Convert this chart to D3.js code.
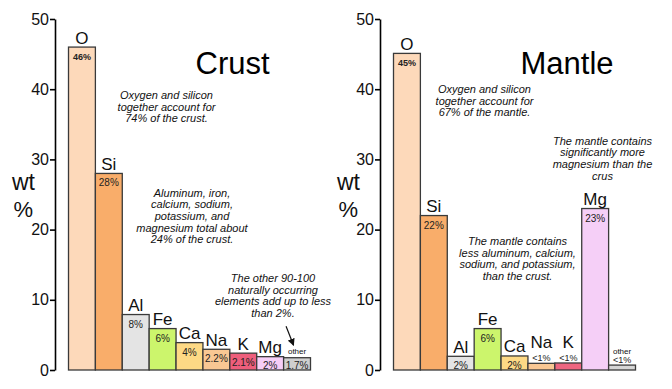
<!DOCTYPE html>
<html><head><meta charset="utf-8">
<script src="https://cdn.jsdelivr.net/npm/d3@7"></script>
<style>body{margin:0;background:#fff}svg{display:block}text{font-family:Arial,"Liberation Sans",sans-serif}</style>
</head><body>
<svg id="c" width="672" height="389"></svg>
<script>
const elements = ["O","Si","Al","Fe","Ca","Na","K","Mg","other"];
const crustValues = [46, 28, 7.9, 5.9, 3.9, 2.95, 2.4, 1.9, 1.75];
const crustLabels = ["46%","28%","8%","6%","4%","2.2%","2.1%","2%","1.7%"];
const mantleValues = [45.1, 22, 1.95, 5.9, 2, 0.95, 1, 23, 0.7];
const mantleLabels = ["45%","22%","2%","6%","2%","<1%","<1%","23%","<1%"];
const crustColors = ["#fdd9ba","#f9ad6a","#e4e4e4","#ccf56c","#fdd985","#f9c793","#ee5e7c","#f7cef7","#cfcfcf"];
const mantleColors = ["#fdd9ba","#f9ad6a","#e4e4e4","#ccf56c","#fdd985","#f9c793","#ee6680","#f5cff7","#d6d6d6"];
const yTicks = [0,10,20,30,40,50];

const svg = d3.select("#c");
const y = d3.scaleLinear().domain([0,50]).range([370,19]);

function panel(ox, title, values, labels, colors, notes) {
  const g = svg.append("g").attr("transform", `translate(${ox},0)`);
  const x = d3.scaleBand().domain(elements).range([13.5, 255.5]).padding(0);
  const bw = x.bandwidth();
  const data = elements.map((e,i)=>({e, v: values[i], l: labels[i], c: colors[i]}));

  g.selectAll("rect.bar").data(data).join("rect")
    .attr("x", d=>x(d.e)).attr("y", d=>y(d.v))
    .attr("width", bw).attr("height", d=>y(0)-y(d.v))
    .attr("fill", d=>d.c).attr("stroke", "#3a3a3a").attr("stroke-width", 1.3);

  data.forEach((d,i)=>{
    const top = y(d.v), h = y(0)-top, cx = x(d.e)+bw/2;
    const inside = h >= 12;
    let pctY, elY;
    if (inside) {
      pctY = Math.min(top + 13, 368.5);
      elY = top - 3.5;
    } else {
      pctY = top - 2;
      elY = d.e === "other" ? top - 11 : top - 15;
    }
    g.append("text").attr("x", cx).attr("y", pctY).attr("text-anchor","middle")
      .attr("font-size", i===0 ? 9 : (inside ? 10 : 9))
      .attr("font-weight", i===0 ? "bold" : "normal")
      .attr("fill", "#222").text(d.l);
    g.append("text").attr("x", cx).attr("y", elY).attr("text-anchor","middle")
      .attr("font-size", d.e==="other" ? 8 : 17).attr("fill","#111")
      .text(d.e);
  });

  const ax = g.append("g").call(d3.axisLeft(y).tickValues(yTicks).tickSize(5).tickSizeOuter(0).tickPadding(1));
  ax.select(".domain").attr("stroke","#000").attr("stroke-width",1.6);
  ax.selectAll(".tick line").attr("stroke","#000").attr("stroke-width",1.6);
  ax.selectAll(".tick text").attr("font-size",16).attr("fill","#111").attr("font-family","Arial, 'Liberation Sans', sans-serif");

  g.append("text").attr("x", -43).attr("y", 190).attr("font-size", 23).attr("fill","#111").text("wt");
  g.append("text").attr("x", -41.5).attr("y", 216.5).attr("font-size", 22).attr("fill","#111").text("%");

  g.append("text").attr("x", 140.5).attr("y", 74).attr("font-size", 31).attr("fill","#000").text(title);

  notes.forEach(n=>{
    n.lines.forEach((ln,j)=>{
      g.append("text").attr("x", n.x).attr("y", n.y + j*11.7).attr("text-anchor","middle")
        .attr("font-size", 11).attr("font-style","italic").attr("fill","#111").text(ln);
    });
  });
  return {g, x, bw};
}

const crust = panel(55, "Crust", crustValues, crustLabels, crustColors, [
  {x: 111.5, y: 99, lines: ["Oxygen and silicon","together account for","74% of the crust."]},
  {x: 137, y: 196.5, lines: ["Aluminum, iron,","calcium, sodium,","potassium, and","magnesium total about","24% of the crust."]},
  {x: 218, y: 282, lines: ["The other 90-100","naturally occurring","elements add up to less","than 2%."]}
]);
panel(380, "Mantle", mantleValues, mantleLabels, mantleColors, [
  {x: 104.5, y: 93, lines: ["Oxygen and silicon","together account for","67% of the mantle."]},
  {x: 222.5, y: 144.5, lines: ["The mantle contains","significantly more","magnesium than the","crus"]},
  {x: 137.5, y: 245, lines: ["The mantle contains","less aluminum, calcium,","sodium, and potassium,","than the crust."]}
]);

svg.append("defs").append("marker").attr("id","ah").attr("viewBox","0 0 10 10")
  .attr("refX",9).attr("refY",5).attr("markerWidth",6).attr("markerHeight",6).attr("orient","auto")
  .append("path").attr("d","M0,0L10,5L0,10z").attr("fill","#111");
const ex = crust.x("other") + crust.bw/2 - 3.5, ey = y(crustValues[8]) - 12.5;
crust.g.append("line").attr("x1", ex-7.5).attr("y1", ey-19).attr("x2", ex).attr("y2", ey)
  .attr("stroke","#111").attr("stroke-width",1.2).attr("marker-end","url(#ah)");
</script>
</body></html>
